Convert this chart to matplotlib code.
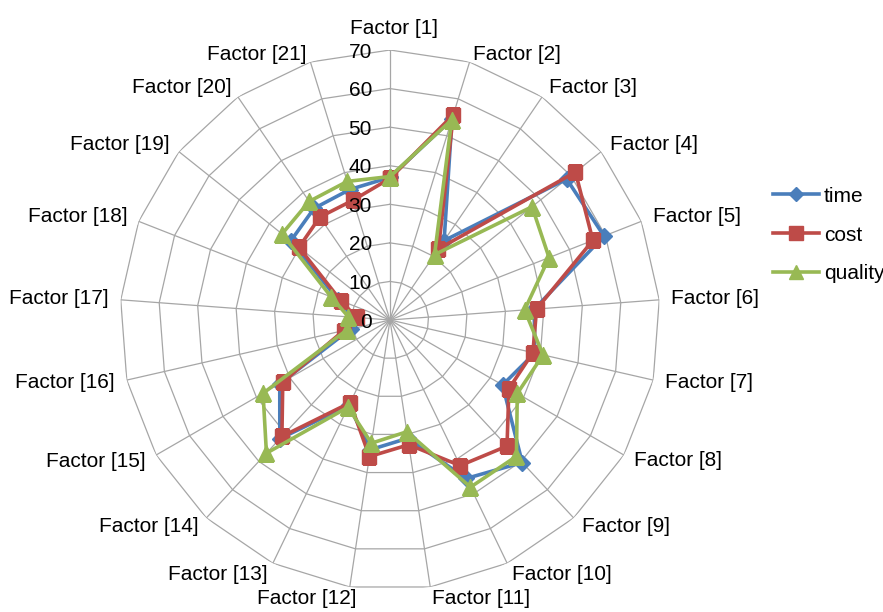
import numpy as np
import matplotlib
matplotlib.use("Agg")
import matplotlib.pyplot as plt
from matplotlib.lines import Line2D

plt.rcParams['font.family'] = ['Liberation Sans', 'DejaVu Sans']

factors = [f"Factor [{i}]" for i in range(1, 22)]
time_vals = [37, 54.5, 24.9, 58.6, 59.6, 37.5, 38.5, 33.7, 50.4, 45.6, 31.0,
             34.0, 24.5, 42.0, 33.0, 10.5, 9.5, 14.5, 32.9, 35.0, 35.4]
cost_vals = [36.7, 55.7, 22.3, 61.5, 56.5, 38.1, 38.0, 35.6, 44.6, 41.9, 32.7,
             35.8, 23.8, 41.2, 32.1, 12.3, 8.7, 13.7, 30.2, 32.3, 32.5]
quality_vals = [37.2, 54.3, 20.5, 47.1, 44.3, 35.0, 40.7, 38.1, 48.2, 48.1, 29.3,
                32.3, 25.1, 47.1, 38.0, 11.4, 10.8, 16.4, 35.8, 37.2, 37.6]
ring_values = [0, 10, 20, 30, 40, 50, 60, 70]
series_names = ["time", "cost", "quality"]

W, H = 883, 612
fig = plt.figure(figsize=(W / 100, H / 100), dpi=100)
cx, cy, R = 390, 320, 270
ax = fig.add_axes([(cx - R) / W, (H - cy - R) / H, 2 * R / W, 2 * R / H], projection='polar')
ax.set_theta_zero_location('N')
ax.set_theta_direction(-1)
ax.set_ylim(0, 70)
ax.set_xticks([])
ax.set_yticks([])
ax.grid(False)
ax.spines['polar'].set_visible(False)
ax.patch.set_alpha(0)

N = len(factors)
theta = np.arange(N) * 2 * np.pi / N
theta_c = np.append(theta, theta[0])

gridc = '#a6a6a6'
for r in ring_values[1:]:
    ax.plot(theta_c, [r] * (N + 1), color=gridc, lw=0.9, zorder=1)
for t in theta:
    ax.plot([t, t], [0, ring_values[-1]], color=gridc, lw=0.9, zorder=1)

# radial labels
for v in ring_values:
    ax.annotate(str(v), xy=(0, v), xytext=(-13, -1.5), textcoords='offset points',
                ha='right', va='center', fontsize=15, color='black', zorder=5)

# factor labels
for i, (t, name) in enumerate(zip(theta, factors)):
    s, c = np.sin(t), np.cos(t)
    if i == 0:
        ax.annotate(name, xy=(t, 70), xytext=(3, 8.5), textcoords='offset points',
                    ha='center', va='bottom', fontsize=15)
        continue
    ha = 'left' if s > 0 else 'right'
    d = 12 * 0.72
    dx, dy = d * s, d * c
    if abs(s) < 0.2:
        dy -= 0.0
        if s < 0:
            dx += 6
    elif c > 0.9:
        dy -= 2.5
    ax.annotate(name, xy=(t, 70), xytext=(dx, dy), textcoords='offset points',
                ha=ha, va='center', fontsize=15)

colors = ['#4a7ebb', '#be4b48', '#98b954']
markers = ['D', 's', '^']
msizes = [8, 10.5, 11]
data = [time_vals, cost_vals, quality_vals]
for vals, col, mk, ms, nm in zip(data, colors, markers, msizes, series_names):
    v = np.append(vals, vals[0])
    ax.plot(theta_c, v, color=col, lw=2.6, marker=mk, markersize=ms,
            markerfacecolor=col, markeredgecolor=col, label=nm, zorder=3)

handles = [Line2D([0], [0], color=col, lw=2.6, marker=mk, markersize=ms * 0.9,
                  markerfacecolor=col, markeredgecolor=col)
           for col, mk, ms in zip(colors, markers, msizes)]
fig.legend(handles, series_names, loc='center left',
           bbox_to_anchor=(773 / W, 1 - 235 / H), frameon=False, fontsize=15,
           handlelength=2.2, handletextpad=0.25, labelspacing=0.95, borderpad=0,
           borderaxespad=0, numpoints=1)

fig.savefig('out.png', dpi=100)
